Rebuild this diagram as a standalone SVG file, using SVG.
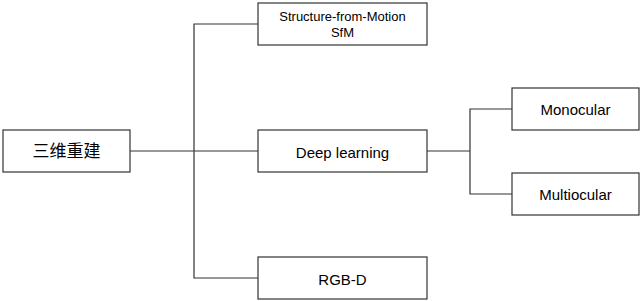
<svg xmlns="http://www.w3.org/2000/svg" width="641" height="301" viewBox="0 0 641 301">
<style>
.box{fill:#fff;stroke:#333;stroke-width:1.2}
.t{font-family:"Liberation Sans","Noto Sans CJK SC",sans-serif;fill:#000;text-anchor:middle;dominant-baseline:central}
.edge{fill:none;stroke:#333;stroke-width:1.2}
</style>
<rect width="641" height="301" fill="#fff"/>
<g id="connectors">
<path class="edge" d="M130,151 H258"/>
<path class="edge" d="M258,24 H194 V278 H258"/>
<path class="edge" d="M427,151 H470"/>
<path class="edge" d="M512,109 H470 V194 H512"/>
</g>
<g id="root">
<rect class="box" x="3" y="130" width="127" height="42"/>
<text class="t" x="66.5" y="151" font-size="17" font-family="'Noto Sans CJK SC',sans-serif">三维重建</text>
</g>
<g id="sfm">
<rect class="box" x="258" y="3" width="169" height="42"/>
<text class="t" x="342.5" y="16.5" font-size="13">Structure-from-Motion</text>
<text class="t" x="342.5" y="32" font-size="13">SfM</text>
</g>
<g id="deep">
<rect class="box" x="258" y="130" width="169" height="42"/>
<text class="t" x="342.5" y="152" font-size="15">Deep learning</text>
</g>
<g id="rgbd">
<rect class="box" x="258" y="257" width="169" height="42"/>
<text class="t" x="342.5" y="279.5" font-size="15">RGB-D</text>
</g>
<g id="mono">
<rect class="box" x="512" y="88" width="127" height="42"/>
<text class="t" x="575.5" y="109.5" font-size="15">Monocular</text>
</g>
<g id="multi">
<rect class="box" x="512" y="173" width="127" height="42"/>
<text class="t" x="575.5" y="194.5" font-size="15">Multiocular</text>
</g>
</svg>
